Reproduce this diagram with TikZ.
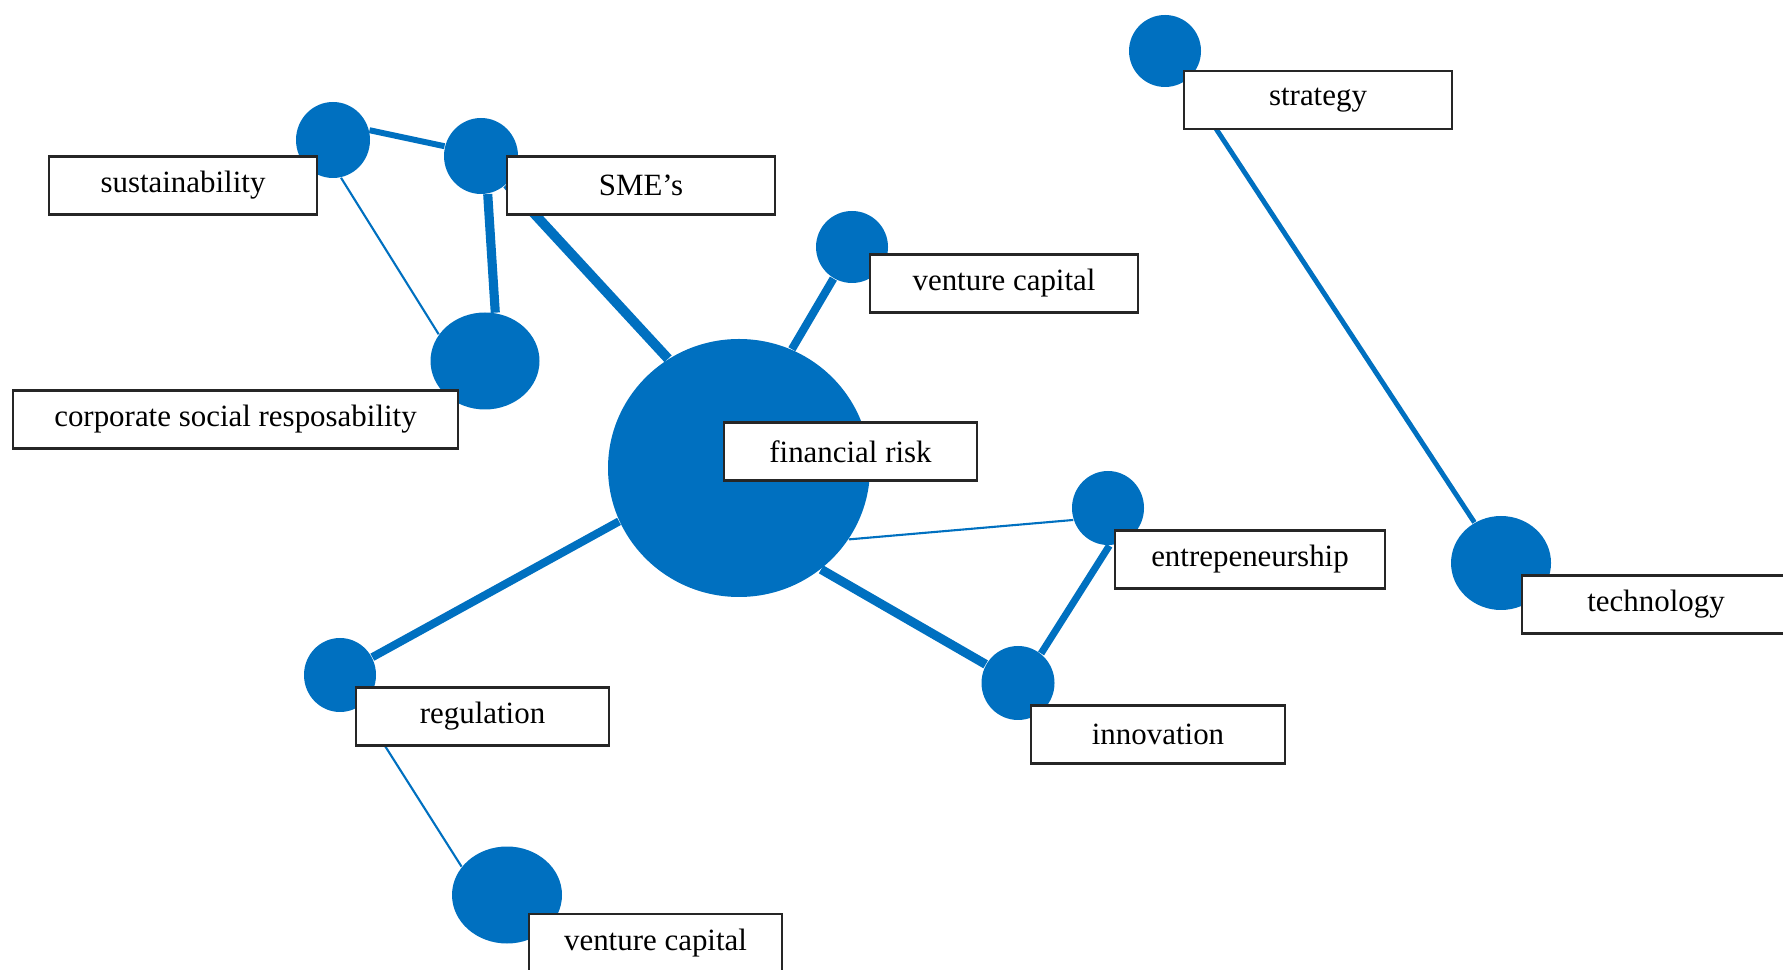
\documentclass[tikz,border=0pt]{standalone}
\usepackage{fontspec}
\setmainfont{Liberation Serif}
\usetikzlibrary{shapes.geometric}
\definecolor{mapblue}{HTML}{0070C0}

\begin{document}
\begin{tikzpicture}[x=0.1mm, y=-0.1mm,
		blob/.style 2 args={ellipse, fill=mapblue, inner sep=0pt, minimum width=#1, minimum height=#2},
		term/.style={draw=black!85, line width=0.6pt, fill=white, inner sep=0pt, minimum height=5.8mm, minimum width=#1, font=\fontsize{8.8}{10}\selectfont},
		conn/.style={draw=mapblue, line width=#1}]
			\useasboundingbox (0,0) rectangle (1783,970);
			\node[blob={7.4mm}{7.6mm}] (sust) at (333,140) {};
			\node[blob={7.4mm}{7.6mm}] (sme) at (481,156) {};
			\node[blob={10.9mm}{9.7mm}] (csr) at (485,361) {};
			\node[blob={7.2mm}{7.2mm}] (vc1) at (852,247) {};
			\node[blob={26.2mm}{25.8mm}] (fr) at (739,468) {};
			\node[blob={7.2mm}{7.4mm}] (entre) at (1108,508) {};
			\node[blob={7.3mm}{7.4mm}] (innov) at (1018,683) {};
			\node[blob={7.2mm}{7.4mm}] (reg) at (340,675) {};
			\node[blob={11mm}{9.7mm}] (vc2) at (507,895) {};
			\node[blob={7.2mm}{7.2mm}] (strat) at (1165,51) {};
			\node[blob={10mm}{9.4mm}] (tech) at (1501,563) {};
			\draw[conn=1.7pt] (sust.15) -- (sme.165);
			\draw[conn=0.6pt] (sust.-78) -- (csr.150);
			\draw[conn=2.6pt] (sme.-80) -- (csr.78);
			\draw[conn=2.8pt] (sme) -- (fr.123);
			\draw[conn=2.3pt] (vc1) -- (fr.66);
			\draw[conn=0.6pt] (fr.-33) -- (entre.199);
			\draw[conn=2.6pt] (fr.-51) -- (innov);
			\draw[conn=2pt] (entre.-88) -- (innov.52);
			\draw[conn=2.3pt] (fr.204) -- (reg);
			\draw[conn=0.6pt] (reg) -- (vc2.148);
			\draw[conn=1.4pt] (strat) -- (tech);
			\node[term=26.8mm] (sustl) at (183,185.5) {sustainability};
			\node[term=26.8mm] (smel) at (641,185.5) {SME’s};
			\node[term=26.8mm] (vc1l) at (1004,283.5) {venture capital};
			\node[term=44.5mm] (csrl) at (235.5,419.5) {corporate social resposability};
			\node[term=25.3mm] (frl) at (850.5,451.5) {financial risk};
			\node[term=27mm] (entrel) at (1250,559.5) {entrepeneurship};
			\node[term=26.8mm] (techl) at (1656,604.5) {technology};
			\node[term=25.3mm] (regl) at (482.5,716.5) {regulation};
			\node[term=25.4mm] (innovl) at (1158,734.5) {innovation};
			\node[term=25.3mm] (vc2l) at (655.5,943) {venture capital};
			\node[term=26.8mm] (stratl) at (1318,100) {strategy};
		\end{tikzpicture}
\end{document}
